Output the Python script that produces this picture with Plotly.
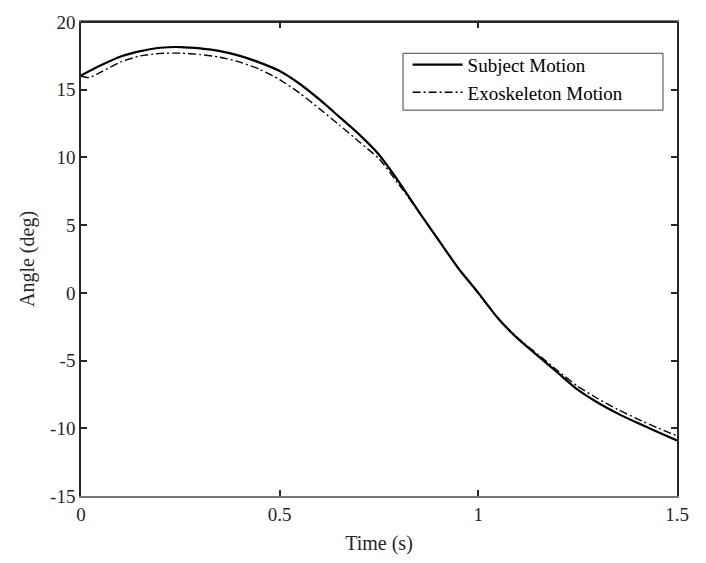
import plotly.graph_objects as go

time_s = [0.0, 0.05, 0.1, 0.15, 0.2, 0.25, 0.3, 0.35, 0.4, 0.45, 0.5, 0.55, 0.6, 0.65, 0.7,
          0.75, 0.8, 0.85, 0.9, 0.95, 1.0, 1.05, 1.1, 1.15, 1.2, 1.25, 1.3, 1.35, 1.4, 1.45, 1.5]
subject_motion = [16.05, 16.8, 17.45, 17.85, 18.1, 18.15, 18.05, 17.85, 17.5, 17.0, 16.38, 15.44,
                  14.28, 13.0, 11.7, 10.2, 8.2, 6.0, 3.9, 1.8, 0.0, -1.9, -3.4, -4.65, -5.9,
                  -7.15, -8.1, -8.9, -9.6, -10.25, -10.9]

exo_time_s = [0.0, 0.02, 0.05, 0.1, 0.15, 0.2, 0.25, 0.3, 0.35, 0.4, 0.45, 0.5, 0.55, 0.6, 0.65,
              0.7, 0.75, 0.8, 0.85, 0.9, 0.95, 1.0, 1.05, 1.1, 1.15, 1.2, 1.25, 1.3, 1.35, 1.4,
              1.45, 1.5]
exo_motion = [16.0, 15.9, 16.3, 17.05, 17.5, 17.68, 17.7, 17.6, 17.4, 17.04, 16.5, 15.75, 14.76,
              13.6, 12.4, 11.16, 9.9, 8.0, 6.0, 3.9, 1.8, -0.05, -1.9, -3.35, -4.55, -5.75,
              -6.9, -7.8, -8.6, -9.3, -9.95, -10.55]

x_ticks = [0, 0.5, 1, 1.5]
x_tick_labels = ["0", "0.5", "1", "1.5"]
y_ticks = [-15, -10, -5, 0, 5, 10, 15, 20]
y_tick_labels = ["-15", "-10", "-5", "0", "5", "10", "15", "20"]

FONT = "Liberation Serif"

fig = go.Figure()
fig.add_trace(go.Scatter(x=time_s, y=subject_motion, mode="lines", name="Subject Motion",
                         line=dict(color="black", width=2.2, shape="spline", smoothing=0.6)))
fig.add_trace(go.Scatter(x=exo_time_s, y=exo_motion, mode="lines", name="Exoskeleton Motion",
                         line=dict(color="black", width=1.4, shape="spline", smoothing=0.6,
                                   dash="8px,3px,2px,3px")))

fig.update_layout(
    width=706, height=563,
    margin=dict(l=81, r=29, t=17, b=62),
    plot_bgcolor="white", paper_bgcolor="white",
    font=dict(family=FONT, size=19, color="#262626"),
    showlegend=True,
    legend=dict(x=0.548, y=0.95, xanchor="left", yanchor="top",
                bgcolor="rgba(0,0,0,0)", borderwidth=0,
                font=dict(family=FONT, size=19, color="black"),
                itemwidth=50, tracegroupgap=0),
    xaxis=dict(range=[0, 1.5], tickvals=x_ticks, ticktext=x_tick_labels,
               showgrid=False, zeroline=False, showline=True, linecolor="#777", linewidth=1.5,
               mirror="ticks", ticks="inside", ticklen=6, tickcolor="#262626", tickwidth=1.5,
               title=dict(text="Time (s)", font=dict(family=FONT, size=20), standoff=12)),
    yaxis=dict(range=[-15, 20], tickvals=y_ticks, ticktext=y_tick_labels,
               showgrid=False, zeroline=False, showline=True, linecolor="#262626", linewidth=1.5,
               mirror="ticks", ticks="inside", ticklen=6, tickcolor="#262626", tickwidth=1.5,
               title=dict(text="Angle (deg)", font=dict(family=FONT, size=20), standoff=10)),
)
fig.add_shape(type="line", xref="paper", yref="paper", x0=0, x1=1, y0=1, y1=1,
              line=dict(color="#262626", width=2))
# legend frame
fig.add_shape(type="rect", xref="paper", yref="paper", x0=0.5403, x1=0.9765, y0=0.814, y1=0.934,
              line=dict(color="#444", width=1), fillcolor="white", layer="below")

fig.write_html("out.html", config={"displayModeBar": False},
               post_script="document.body.style.margin='0';document.body.style.overflow='hidden';")
